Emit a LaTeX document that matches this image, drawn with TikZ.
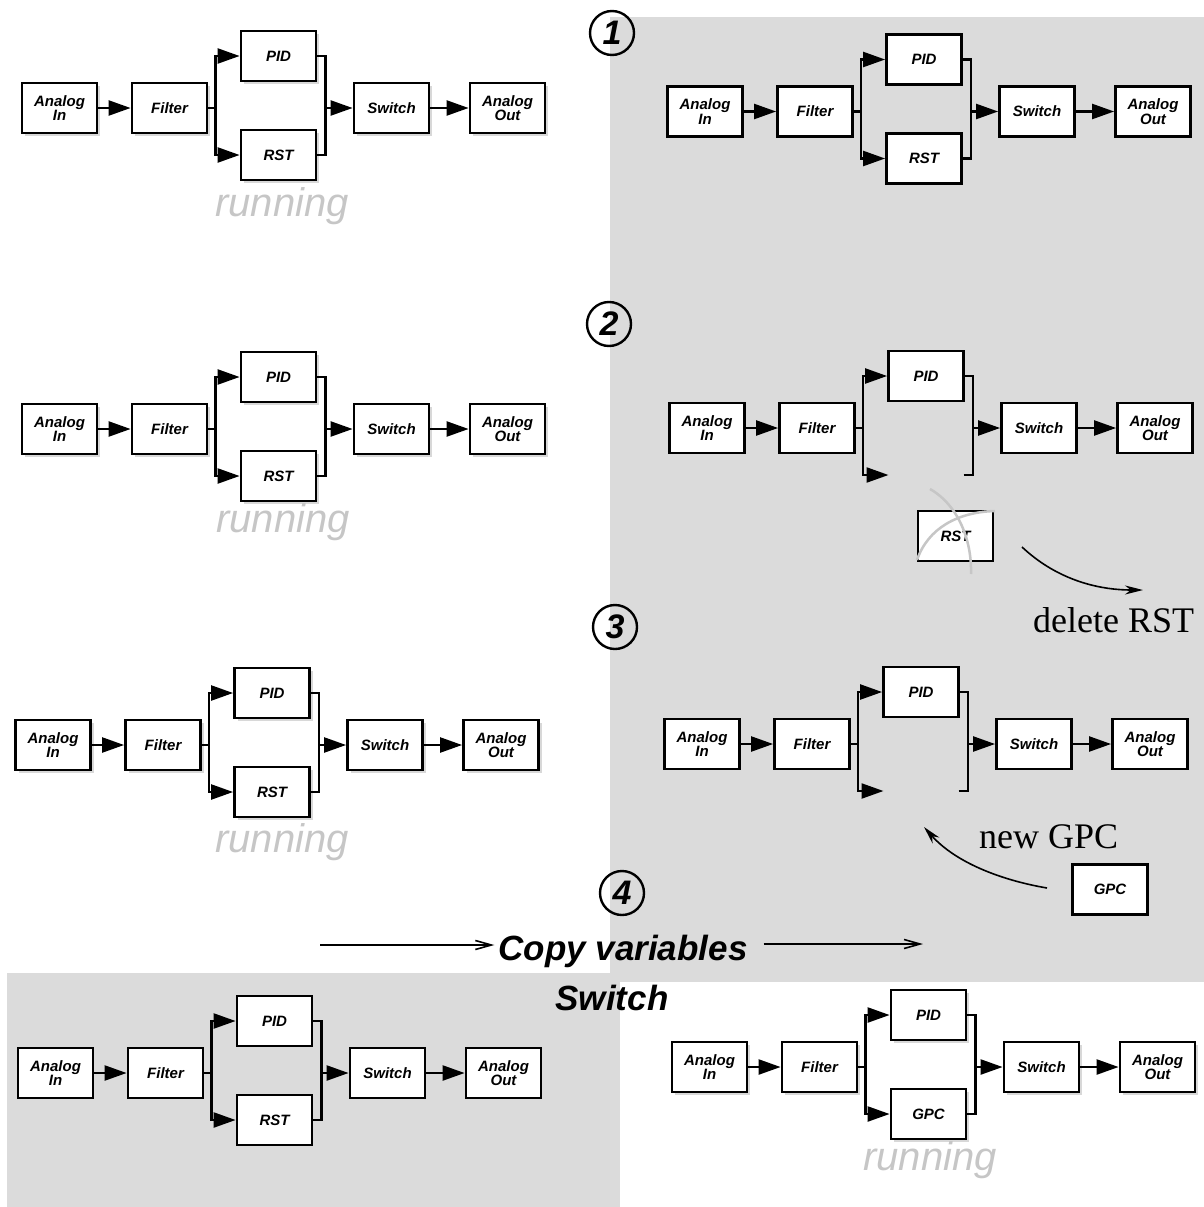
\documentclass[tikz,border=0pt]{standalone}
\usepackage{fontspec}
\setmainfont{Liberation Serif}
\setsansfont{Liberation Sans}
\usetikzlibrary{arrows.meta, shadows}

\tikzset{
  blk/.style={draw, line width=2.8pt, fill=white, minimum width=75pt, minimum height=50pt,
    inner sep=1pt, align=center, font=\sffamily\bfseries\itshape\fontsize{15}{13}\selectfont},
  boxshadow/.style={drop shadow={shadow xshift=3pt, shadow yshift=-3pt, fill=gray!60}},
  wire/.style={line width=2.3pt},
  feed/.style={wire, -{Triangle[length=22pt, width=15pt]}},
  runtxt/.style={text=gray!45, inner sep=0pt, font=\sffamily\itshape\fontsize{40}{40}\selectfont},
  stepmark/.style={circle, draw, line width=2.4pt, minimum size=44pt, inner sep=0pt,
    font=\sffamily\bfseries\itshape\fontsize{34}{34}\selectfont},
  lbl/.style={inner sep=0pt, font=\rmfamily\fontsize{36}{36}\selectfont},
  bigtxt/.style={inner sep=0pt, font=\sffamily\bfseries\itshape\fontsize{35}{35}\selectfont},
  bgpanel/.style={fill=gray!28},
  scratch/.style={draw=gray!45, line width=2.5pt},
  curvearrow/.style={line width=1.6pt, -{Stealth[length=18pt, width=9pt]}},
  longarrow/.style={line width=1.6pt, -{Straight Barb[length=16pt, width=9pt]}}
}

\newcommand{\ctrlchain}[5][]{%
  \begin{scope}[shift={(#3,#4)}]
    \node[blk,#1] (#2ai) at (0,0) {Analog\\In};
    \node[blk,#1] (#2fi) at (110,0) {Filter};
    \node[blk,#1] (#2pid) at (219,-52) {PID};
    \node[blk,#1] (#2sw) at (332,0) {Switch};
    \node[blk,#1] (#2ao) at (448,0) {Analog\\Out};
    \coordinate (#2br) at (156,0);
    \coordinate (#2mg) at (266,0);
    \draw[feed] (#2ai) -- (#2fi);
    \draw[wire] (#2fi) -- (#2br);
    \draw[feed] (#2br) |- (#2pid);
    \draw[wire] (#2pid) -| (#2mg);
    \draw[feed] (#2mg) -- (#2sw);
    \draw[feed] (#2sw) -- (#2ao);
    \def\lowtext{#5}%
    \ifx\lowtext\empty
      \coordinate (#2lin) at (181.5,47);
      \coordinate (#2lout) at (256.5,47);
      \draw[feed] (#2br) |- (#2lin);
      \draw[wire] (#2lout) -| (#2mg);
    \else
      \node[blk,#1] (#2low) at (219,47) {#5};
      \draw[feed] (#2br) |- (#2low);
      \draw[wire] (#2low) -| (#2mg);
    \fi
  \end{scope}}

\begin{document}
\begin{tikzpicture}[x=1pt, y=-1pt]
\useasboundingbox (0,0) rectangle (1204,1207);

\fill[bgpanel] (610,17) rectangle (1204,982);
\fill[bgpanel] (7,973) rectangle (620,1207);

\ctrlchain[boxshadow]{a}{59.5}{108}{RST}
\ctrlchain[boxshadow]{b}{59.5}{429}{RST}
\ctrlchain[boxshadow]{c}{53}{745}{RST}
\ctrlchain{d}{55.5}{1073}{RST}
\ctrlchain{p}{705}{111.5}{RST}
\ctrlchain{q}{707}{428}{}
\ctrlchain{r}{702}{744}{}
\ctrlchain[boxshadow]{s}{709.5}{1067}{GPC}

\node[runtxt] (arun) at (282,206) {running};
\node[runtxt] (brun) at (283,522) {running};
\node[runtxt] (crun) at (282,842) {running};
\node[runtxt] (srun) at (930,1160) {running};

\node[stepmark] (s1) at (612,33) {1};
\node[stepmark] (s2) at (609,324) {2};
\node[stepmark] (s3) at (615,627) {3};
\node[stepmark] (s4) at (622,893) {4};

\node[blk] (rstold) at (955.5,536) {RST};
\draw[scratch] (917,560) .. controls (928,528) and (958,512) .. (995,511);
\draw[scratch] (930,489) .. controls (958,505) and (972,540) .. (971,574);
\coordinate (delfrom) at (1022,547);
\coordinate (delto) at (1143,590);
\draw[curvearrow] (delfrom) .. controls (1055,578) and (1095,590) .. (delto);
\node[lbl, anchor=base west] (deltxt) at (1033,632) {delete RST};

\node[blk] (gpcnew) at (1110,889.5) {GPC};
\coordinate (gpcfrom) at (1047,888);
\coordinate (gpcto) at (924,827);
\draw[curvearrow] (gpcfrom) .. controls (1000,880) and (955,862) .. (gpcto);
\node[lbl, anchor=base west] (gpctxt) at (979,848) {new GPC};

\node[bigtxt, anchor=base] (copy) at (623,960) {Copy variables};
\node[bigtxt, anchor=base] (swtxt) at (612,1010) {Switch};
\coordinate (cvstart) at (320,945);
\coordinate (cvend) at (923,944);
\draw[longarrow] (cvstart) -- ([xshift=-4pt]copy.west |- cvstart);
\draw[longarrow] ([xshift=16pt]copy.east |- cvend) -- (cvend);

\end{tikzpicture}
\end{document}
